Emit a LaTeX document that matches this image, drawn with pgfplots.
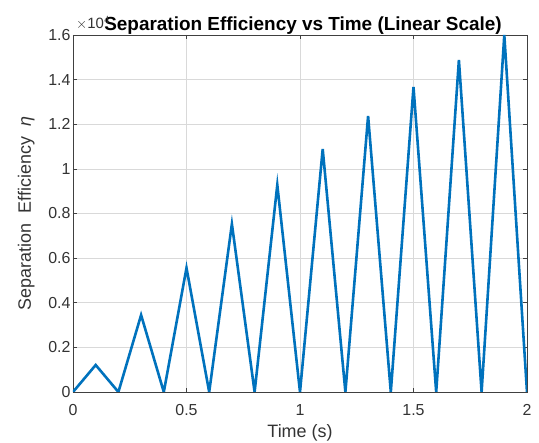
\documentclass[border=0pt]{standalone}
\usepackage{pgfplots}
\pgfplotsset{compat=1.18}
\usepackage{fontspec}
\setmainfont{Liberation Sans}
\definecolor{mblue}{RGB}{0,114,189}
\begin{document}
\begin{tikzpicture}[x=1bp,y=1bp]
\begin{axis}[
  scale only axis,
  width=454bp, height=357bp,
  xmin=0, xmax=2, ymin=0, ymax=1.6,
  xtick={0,0.5,1,1.5,2},
  ytick={0,0.2,0.4,0.6,0.8,1,1.2,1.4,1.6},
  xticklabels={0,0.5,1,1.5,2},
  yticklabels={0,0.2,0.4,0.6,0.8,1,1.2,1.4,1.6},
  tick align=inside,
  major tick length=4bp,
  tick style={color=black!75, line width=0.6bp},
  axis line style={black!75, line width=0.6bp},
  grid=major,
  grid style={black!15, line width=0.6bp},
  ticklabel style={font=\fontsize{16}{18}\selectfont, text=black!80},
  xticklabel style={yshift=-9bp},
  yticklabel style={xshift=1bp},
  /pgf/number format/assume math mode=true,
  xlabel={Time (s)},
  ylabel={Separation\ \ Efficiency\ \ \textit{η}},
  label style={font=\fontsize{18}{20}\selectfont, text=black!80},
  xlabel style={yshift=-2bp},
  ylabel style={yshift=7bp},
  title={\textbf{Separation Efficiency vs Time (Linear Scale)}},
  title style={font=\fontsize{19}{21}\selectfont, yshift=-9bp, xshift=3bp},
  clip=true,
]
\coordinate (ll) at (rel axis cs:0,0);
\coordinate (ur) at (rel axis cs:1,1);
\coordinate (ul) at (rel axis cs:0,1);
\addplot[mblue, line width=2.6bp, line join=miter] coordinates {
(0,0) (0.1,0.121) (0.2,0) (0.3,0.345) (0.4,0) (0.5,0.556) (0.6,0)
(0.7,0.753) (0.8,0) (0.9,0.928) (1.0,0) (1.1,1.089) (1.2,0)
(1.3,1.237) (1.4,0) (1.5,1.367) (1.6,0) (1.7,1.488) (1.8,0)
(1.9,1.60) (2.0,0)
};
\end{axis}
\node[anchor=south west, inner sep=0pt, font=\fontsize{15}{17}\selectfont, text=black!80] at ([shift={(3bp,5bp)}]ul) {$\times$10$^{4}$};
\pgfresetboundingbox
\path ([shift={(-73bp,-51bp)}]ll) rectangle ([shift={(12bp,35bp)}]ur);
\end{tikzpicture}
\end{document}
